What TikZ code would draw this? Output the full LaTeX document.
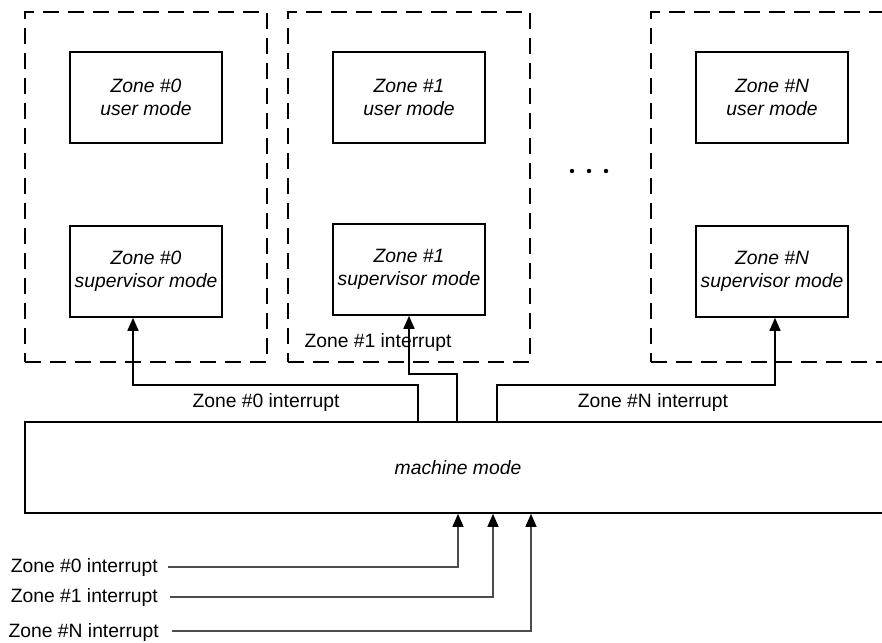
\documentclass[tikz,border=0pt]{standalone}
\usepackage{fontspec}
\setmainfont{Liberation Sans}
\usetikzlibrary{arrows.meta,calc}
\begin{document}
\begin{tikzpicture}[x=1pt,y=-1pt,
  modebox/.style={draw,line width=1.6pt,minimum width=152pt,minimum height=91pt,inner sep=0pt,align=center,font=\fontsize{19.3}{23}\selectfont\itshape},
  zonebox/.style={draw,dash pattern=on 16pt off 9pt,line width=1.6pt,minimum width=242pt,minimum height=350pt,inner sep=0pt},
  lbl/.style={font=\fontsize{19.3}{23}\selectfont,inner sep=0pt},
  arr/.style={line width=1.6pt,-{Triangle[length=13pt,width=11pt]}},
  inarr/.style={line width=1.2pt,draw=black!70,-{Triangle[length=13pt,width=11pt,color=black]}}]
\useasboundingbox (0,0) rectangle (882,642);
\clip (0,0) rectangle (882,642);
% zones
\node[zonebox] (d0) at (146,187) {};
\node[zonebox] (d1) at (409,187) {};
\node[zonebox] (dN) at (772,187) {};
\node[modebox] (u0) at (146,97.5) {Zone \#0\\user mode};
\node[modebox] (s0) at (146,271.5) {Zone \#0\\supervisor mode};
\node[modebox] (u1) at (409,97.5) {Zone \#1\\user mode};
\node[modebox] (s1) at (409,269.5) {Zone \#1\\supervisor mode};
\node[modebox] (uN) at (772,97.5) {Zone \#N\\user mode};
\node[modebox] (sN) at (772,271.5) {Zone \#N\\supervisor mode};
\fill (572,171) circle (2.2) (589,171) circle (2.2) (606,171) circle (2.2);
% machine mode
\node[draw,line width=1.6pt,minimum width=866pt,minimum height=91pt,inner sep=0pt,font=\fontsize{19.3}{23}\selectfont\itshape] (mm) at (458,467.5) {machine mode};
% top connectors
\coordinate (b0) at (418,385);
\coordinate (t0) at (133,385);
\coordinate (b1) at (457,374);
\coordinate (t1) at (409,374);
\coordinate (bN) at (497,385);
\coordinate (tN) at (775,385);
\draw[arr] (mm.north -| b0) -- (b0) -- (t0) -- (s0.south -| t0);
\draw[arr] (mm.north -| b1) -- (b1) -- (t1) -- (s1.south -| t1);
\draw[arr] (mm.north -| bN) -- (bN) -- (tN) -- (sN.south -| tN);
\node[lbl] (l0) at (266,403) {Zone \#0 interrupt};
\node[lbl] (l1) at (378,343) {Zone \#1 interrupt};
\node[lbl] (lN) at (653,403) {Zone \#N interrupt};
% bottom inputs
\node[lbl,anchor=east] (i0) at (158,567.5) {Zone \#0 interrupt};
\node[lbl,anchor=east] (i1) at (158,597.5) {Zone \#1 interrupt};
\node[lbl,anchor=east] (iN) at (159,632.5) {Zone \#N interrupt};
\coordinate (e0) at (458,567);
\coordinate (e1) at (493,597);
\coordinate (eN) at (531,631);
\draw[inarr] ($(i0.east)+(10,-0.5)$) -- (e0) -- (mm.south -| e0);
\draw[inarr] ($(i1.east)+(12,-0.5)$) -- (e1) -- (mm.south -| e1);
\draw[inarr] ($(iN.east)+(13,-1.5)$) -- (eN) -- (mm.south -| eN);
\end{tikzpicture}
\end{document}
